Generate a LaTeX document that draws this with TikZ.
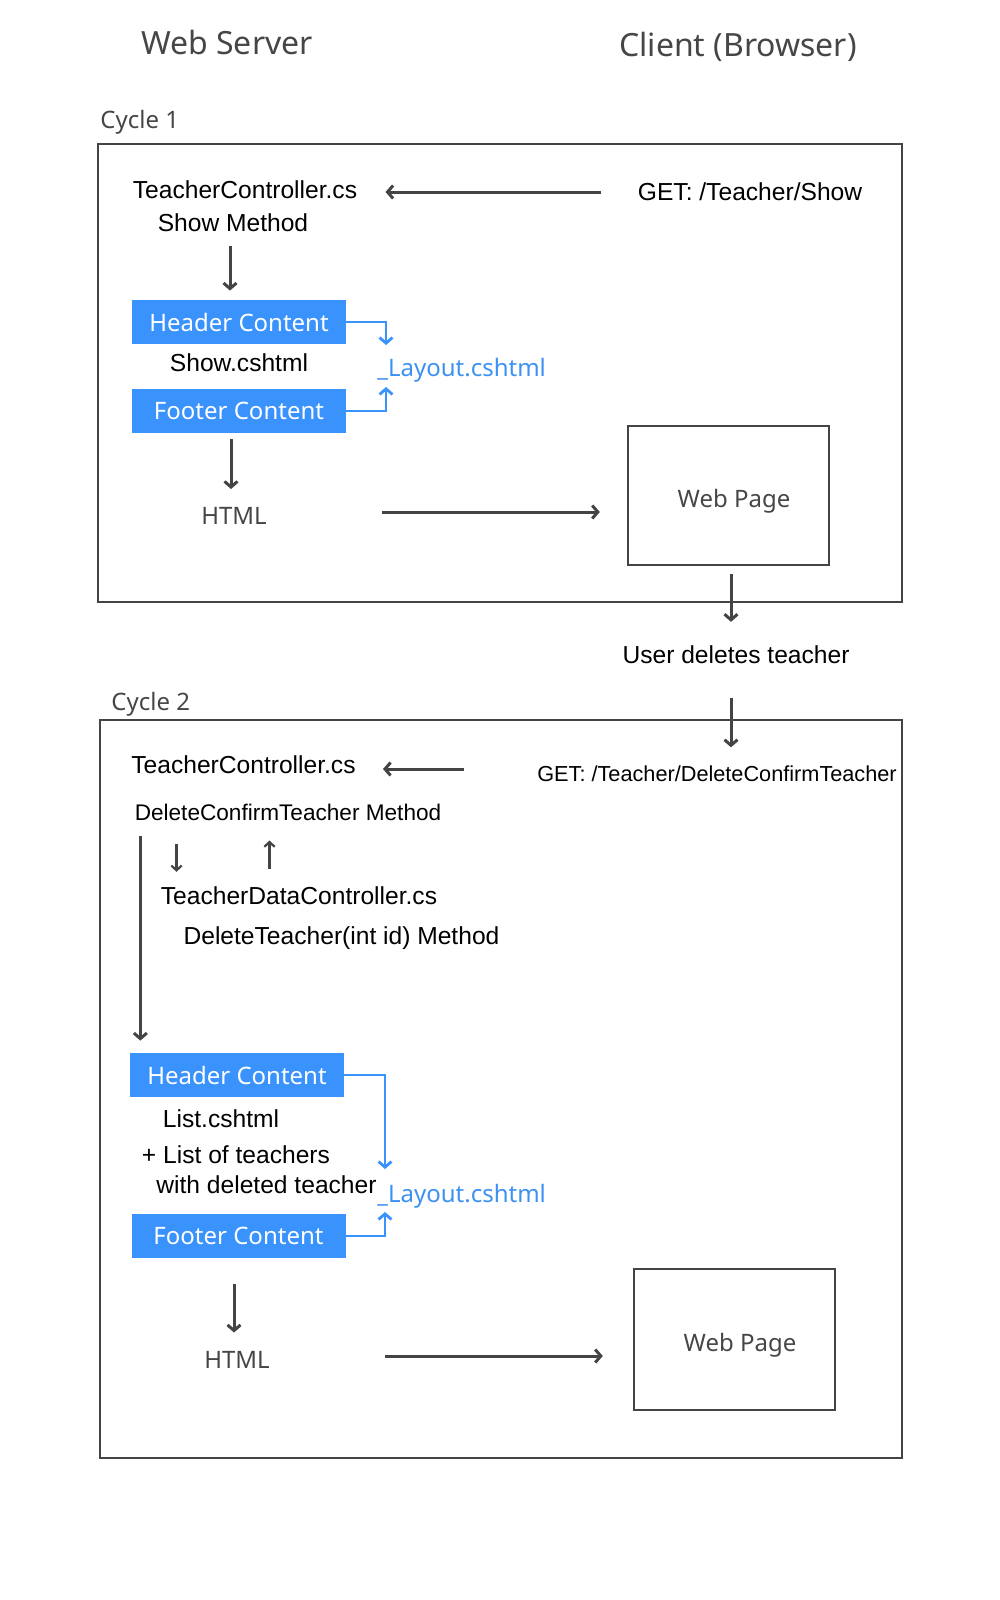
\documentclass[tikz,border=0pt]{standalone}
\usepackage{fontspec}
\setmainfont{Liberation Sans}
\newfontfamily\segfont{Noto Sans}
\usetikzlibrary{arrows.meta}
\definecolor{linegray}{RGB}{68,68,68}
\definecolor{titlegray}{RGB}{70,70,70}
\definecolor{bblue}{RGB}{58,146,252}
\definecolor{btext}{RGB}{60,145,242}
\begin{document}
\begin{tikzpicture}[x=0.5pt,y=-0.5pt,
 txt/.style={inner sep=0pt, text height=8.8pt, text depth=0pt, font=\fontsize{12.3}{14}\selectfont, text=black},
 seg/.style={inner sep=0pt, text height=8.6pt, text depth=0pt, font=\segfont\fontsize{12}{14}\selectfont, text=titlegray},
 title/.style={inner sep=0pt, text height=11.4pt, text depth=0pt, font=\segfont\fontsize{16}{19}\selectfont, text=titlegray},
 frame/.style={draw=linegray, line width=1.2pt, inner sep=0pt},
 bluebox/.style={fill=bblue, text=white, font=\segfont\fontsize{12}{14}\selectfont, minimum width=107pt, minimum height=22pt, inner sep=0pt},
 arr/.style={draw=linegray, line width=1.5pt, -{Straight Barb[length=2.8pt,width=6.5pt]}},
 thinarr/.style={draw=linegray, line width=1.1pt, -{Straight Barb[length=2.4pt,width=5.2pt]}},
 barr/.style={draw=bblue, line width=1.4pt, -{Straight Barb[length=2.8pt,width=6.5pt]}},
]
\useasboundingbox (0,0) rectangle (1000,1600);

% titles
\node[title] (ws) at (227,43) {Web Server};
\node[title] (cb) at (738,45) {Client (Browser)};

% cycle 1
\node[seg, anchor=west] (cy1) at (100,120) {Cycle 1};
\node[frame, minimum width=402pt, minimum height=229pt] (box1) at (500,373) {};
\node[txt] (tc1) at (245,190) {TeacherController.cs};
\node[txt] (sm1) at (233,223) {Show Method};
\node[txt] (get1) at (750,192) {GET: /Teacher/Show};
\node[bluebox] (hc1) at (239,322) {Header Content};
\node[txt] (sc1) at (239,363) {Show.cshtml};
\node[bluebox] (fc1) at (239,411) {Footer Content};
\node[seg, text=btext, anchor=west] (lay1) at (377,368) {\_Layout.cshtml};
\node[seg] (html1) at (234,516) {HTML};
\node[frame, minimum width=100.5pt, minimum height=69.5pt] (wp1) at (728.5,495.5) {};
\node[seg] (wpt1) at (734,499) {Web Page};
\node[txt] (ud) at (736,655) {User deletes teacher};

% cycle 2
\node[seg, anchor=west] (cy2) at (111,702) {Cycle 2};
\node[frame, minimum width=401pt, minimum height=369pt] (box2) at (501,1089) {};
\node[txt] (tc2) at (243.5,765) {TeacherController.cs};
\node[txt, font=\fontsize{10.85}{12}\selectfont, text height=7.8pt] (get2) at (717,774) {GET: /Teacher/DeleteConfirmTeacher};
\node[txt, font=\fontsize{11.3}{13}\selectfont, text height=8.1pt] (dcm) at (288,812) {DeleteConfirmTeacher Method};
\node[txt] (tdc) at (299,896) {TeacherDataController.cs};
\node[txt] (dt) at (341.5,936) {DeleteTeacher(int id) Method};
\node[bluebox] (hc2) at (237,1075) {Header Content};
\node[txt] (lc) at (221,1119) {List.cshtml};
\node[txt] (lt) at (236,1155) {+ List of teachers};
\node[txt] (wd) at (266.5,1185) {with deleted teacher};
\node[seg, text=btext, anchor=west] (lay2) at (377,1194) {\_Layout.cshtml};
\node[bluebox] (fc2) at (238.5,1236) {Footer Content};
\node[seg] (html2) at (237,1360) {HTML};
\node[frame, minimum width=100.5pt, minimum height=70.5pt] (wp2) at (734.5,1339.5) {};
\node[seg] (wpt2) at (740,1343) {Web Page};

% connectors cycle 1
\draw[arr, shorten <=18pt, shorten >=14pt] (get1.west) -- (get1.west -| tc1.east);
\coordinate (a1) at ([xshift=-1.5pt]sm1.south);
\draw[arr, shorten <=7pt, shorten >=4.5pt] (a1) -- (a1 |- hc1.north);
\coordinate (l1t) at (386,345);
\coordinate (l1b) at (386,387);
\draw[barr] (hc1.east) -| (l1t);
\draw[barr] (fc1.east) -| (l1b);
\coordinate (a2) at ([xshift=-4pt]fc1.south);
\draw[arr, shorten <=3pt, shorten >=9pt] (a2) -- (a2 |- html1.north);
\coordinate (a3) at ([yshift=2pt]html1.east);
\draw[arr, shorten <=57.5pt, shorten >=13.5pt] (a3) -- (a3 -| wp1.west);
\coordinate (a4) at ([xshift=1.25pt]wp1.south);
\draw[arr, shorten <=4pt, shorten >=12pt] (a4) -- (a4 |- ud.north);
\draw[arr, shorten <=16.75pt, shorten >=9.25pt] (a4 |- ud.south) -- (a4 |- get2.north);

% connectors cycle 2
\coordinate (a5) at ([yshift=-2pt]tc2.east);
\draw[arr, shorten <=36.5pt, shorten >=13.5pt] (a5 -| get2.west) -- (a5);
\coordinate (a6) at ([xshift=3pt]dcm.south west);
\draw[arr, shorten <=7.5pt, shorten >=6pt] (a6) -- (a6 |- hc2.north);
\coordinate (a7) at ([xshift=8pt]tdc.north west);
\draw[thinarr, shorten <=11.5pt, shorten >=7.5pt] (a7 |- dcm.south) -- (a7);
\coordinate (a8) at ([xshift=54.5pt]tdc.north west);
\draw[thinarr, shorten <=9pt, shorten >=10pt] (a8) -- (a8 |- dcm.south);
\coordinate (l2t) at (385,1169);
\coordinate (l2b) at (385,1212);
\draw[barr] (hc2.east) -| (l2t);
\draw[barr] (fc2.east) -| (l2b);
\coordinate (a9) at ([xshift=-2.25pt]fc2.south);
\draw[arr, shorten <=13pt, shorten >=9.25pt] (a9) -- (a9 |- html2.north);
\coordinate (a10) at ([yshift=2pt]html2.east);
\draw[arr, shorten <=57.5pt, shorten >=15pt] (a10) -- (a10 -| wp2.west);
\end{tikzpicture}
\end{document}
